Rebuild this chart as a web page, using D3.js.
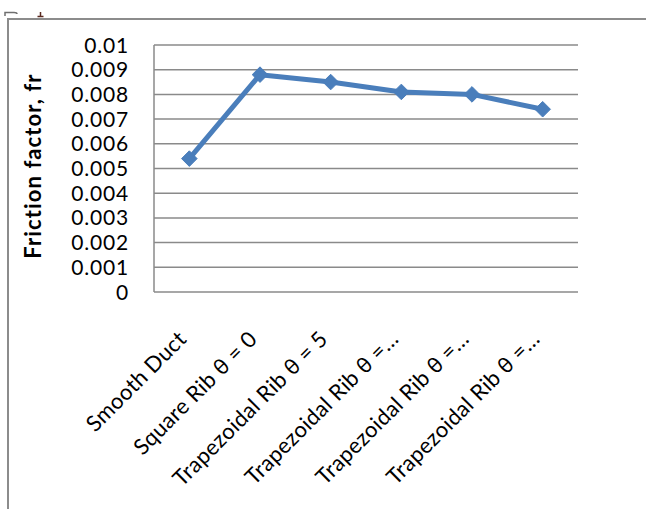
<!DOCTYPE html>
<html>
<head>
<meta charset="utf-8">
<script src="https://cdn.jsdelivr.net/npm/d3@7"></script>
<style>
  html, body { margin: 0; padding: 0; background: #ffffff; }
  svg { display: block; }
</style>
</head>
<body>
<script>
// Friction factor for each duct / rib configuration
const categories = [
  "Smooth Duct",
  "Square Rib θ = 0",
  "Trapezoidal Rib θ = 5",
  "Trapezoidal Rib θ =…",
  "Trapezoidal Rib θ =…",
  "Trapezoidal Rib θ =…"
];
const frictionFactor = [0.0054, 0.0088, 0.0085, 0.0081, 0.0080, 0.0074];
const yTicks = [0, 0.001, 0.002, 0.003, 0.004, 0.005, 0.006, 0.007, 0.008, 0.009, 0.01];
const yTickLabels = ["0", "0.001", "0.002", "0.003", "0.004", "0.005", "0.006", "0.007", "0.008", "0.009", "0.01"];
const yTitle = "Friction factor, fr";

const W = 646, H = 509;
const plot = { left: 154, right: 578, top: 45, bottom: 292 };
const FONT = "Lato, 'Open Sans', sans-serif";

const svg = d3.select("body").append("svg")
  .attr("width", W).attr("height", H);

// Clipped remnants of text sitting above the frame
const head = svg.append("g");
head.append("path")
  .attr("d", "M5,16 V12.5 H14 Q17,12.5 17,14")
  .attr("fill", "none")
  .attr("stroke", "#6f6f6f")
  .attr("stroke-width", 1.5);
head.append("path")
  .attr("d", "M40.5,12 V16.5 M37.5,16.5 H43.5")
  .attr("fill", "none")
  .attr("stroke", "#5a2a20")
  .attr("stroke-width", 1.5);

// Outer frame (top and left edges)
svg.append("path")
  .attr("d", `M${W},19 H8 V${H}`)
  .attr("fill", "none")
  .attr("stroke", "#8c8c8c")
  .attr("stroke-width", 2);

const x = d3.scaleBand()
  .domain(d3.range(categories.length))
  .range([plot.left, plot.right])
  .padding(0);
const cx = i => x(i) + x.bandwidth() / 2;

const y = d3.scaleLinear()
  .domain([0, 0.01])
  .range([plot.bottom, plot.top]);

// Horizontal gridlines
svg.append("g")
  .selectAll("line")
  .data(yTicks)
  .join("line")
  .attr("x1", plot.left).attr("x2", plot.right)
  .attr("y1", d => y(d)).attr("y2", d => y(d))
  .attr("stroke", "#8a8a8a")
  .attr("stroke-width", 1.5);

// Value axis line
svg.append("line")
  .attr("x1", plot.left).attr("x2", plot.left)
  .attr("y1", plot.top).attr("y2", plot.bottom)
  .attr("stroke", "#8a8a8a")
  .attr("stroke-width", 1.5);

// Y tick labels
svg.append("g")
  .selectAll("text")
  .data(yTicks)
  .join("text")
  .attr("x", 129)
  .attr("y", d => y(d))
  .attr("dy", "0.36em")
  .attr("text-anchor", "end")
  .attr("font-family", FONT)
  .attr("font-size", 21)
  .attr("letter-spacing", 0.8)
  .attr("fill", "#000")
  .text((d, i) => yTickLabels[i]);

// Y axis title
svg.append("text")
  .attr("transform", `translate(33,${166}) rotate(-90)`)
  .attr("text-anchor", "middle")
  .attr("dy", "0.35em")
  .attr("font-family", FONT)
  .attr("font-weight", "bold")
  .attr("font-size", 22)
  .attr("letter-spacing", 1.1)
  .attr("fill", "#000")
  .text(yTitle);

// Category labels, rotated
svg.append("g")
  .selectAll("text")
  .data(categories)
  .join("text")
  .attr("transform", (d, i) => `translate(${cx(i) - 7},${335}) rotate(-45)`)
  .attr("text-anchor", "end")
  .attr("dy", "0.35em")
  .attr("font-family", FONT)
  .attr("font-size", 22)
  .attr("letter-spacing", 0.3)
  .attr("fill", "#000")
  .text(d => d);

// Series line
const line = d3.line()
  .x((d, i) => cx(i))
  .y(d => y(d));

svg.append("path")
  .datum(frictionFactor)
  .attr("d", line)
  .attr("fill", "none")
  .attr("stroke", "#4a7ebb")
  .attr("stroke-width", 5)
  .attr("stroke-linejoin", "round");

// Diamond markers
const diamond = d3.symbol().type(d3.symbolDiamond2).size(155);
svg.append("g")
  .selectAll("path")
  .data(frictionFactor)
  .join("path")
  .attr("transform", (d, i) => `translate(${cx(i)},${y(d)})`)
  .attr("d", diamond)
  .attr("fill", "#4a7ebb")
  .attr("stroke", "#4a7ebb")
  .attr("stroke-width", 1);
</script>
</body>
</html>
